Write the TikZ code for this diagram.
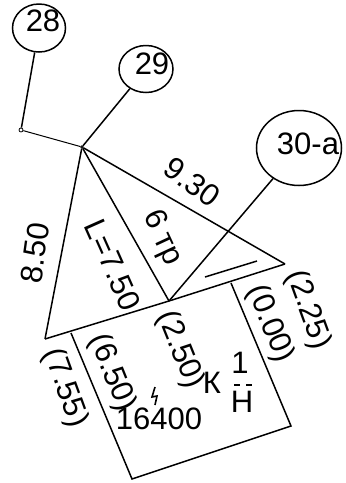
\documentclass[tikz,border=0pt]{standalone}
\usepackage{fontspec}
\setmainfont{Liberation Sans}
\usetikzlibrary{shapes.geometric}
\tikzset{
  x=1pt,y=-1pt,
  wire/.style={line width=1.5pt,black},
  thinwire/.style={line width=1pt,black},
  station/.style={ellipse,draw,line width=1.5pt,inner sep=0pt},
  dot/.style={circle,draw,line width=0.8pt,inner sep=0pt,minimum size=4pt,fill=white},
  lab/.style={inner sep=0pt,font=\fontsize{31}{31}\selectfont},
}
\begin{document}
\begin{tikzpicture}
\useasboundingbox (0,0) rectangle (346,483);
\node[station,minimum width=53pt,minimum height=48pt] (n28) at (39,28) {};
\node[lab] (t28) at (43,21) {28};
\node[station,minimum width=54pt,minimum height=47pt] (n29) at (146,69) {};
\node[lab] (t29) at (152,64) {29};
\node[station,minimum width=85pt,minimum height=75pt] (n30) at (299,148) {};
\node[lab] (t30) at (308,144) {30-a};
\node[dot] (s) at (21,130) {};
\node[dot,minimum size=2.5pt] (j) at (82,147) {};
\coordinate (left) at (45,339);
\coordinate (mid) at (169,301);
\coordinate (right) at (285,264);
\coordinate (ra) at (71,333);
\coordinate (rb) at (132,479);
\coordinate (rc) at (291,426);
\coordinate (rd) at (231,283);
\coordinate (ia) at (205,277);
\coordinate (ib) at (257,261);
\draw[wire] (n28) -- (s);
\draw[thinwire] (s) -- (j);
\draw[wire] (n29) -- (j);
\draw[wire] (n30) -- (mid);
\draw[wire] (j) -- (left);
\draw[wire] (j) -- (mid);
\draw[wire] (j) -- (right);
\draw[wire] (left) -- (mid) -- (right);
\draw[wire] (ra) -- (rb) -- (rc) -- (rd);
\draw[wire] (ia) -- (ib);
\node[lab,rotate=-36] (l930) at (192,182) {9.30};
\node[lab,rotate=-65] (l6) at (162,238) {6 тр};
\node[lab,rotate=-66] (l750) at (113,265) {L=7.50};
\node[lab,rotate=82] (l850) at (35,253) {8.50};
\node[lab,rotate=-70] (l225) at (308,310) {(2.25)};
\node[lab,rotate=-68] (l000) at (270,324) {(0.00)};
\node[lab,rotate=-68] (l250) at (180,350) {(2.50)};
\node[lab,rotate=-68] (l650) at (112,373) {(6.50)};
\node[lab,rotate=-70] (l755) at (65,388) {(7.55)};
\node[lab] (lk) at (212,383) {К};
\node[lab] (l1) at (240,363) {1};
\node[lab] (lh) at (242,402) {Н};
\draw[line width=1.5pt] (234,385) -- (240,385) (246,385) -- (252,385);
\node[lab] (l16) at (159,419) {16400};
\draw[line width=1.6pt] (155,387) -- (152,397) -- (157,396) -- (155,405);
\end{tikzpicture}
\end{document}
